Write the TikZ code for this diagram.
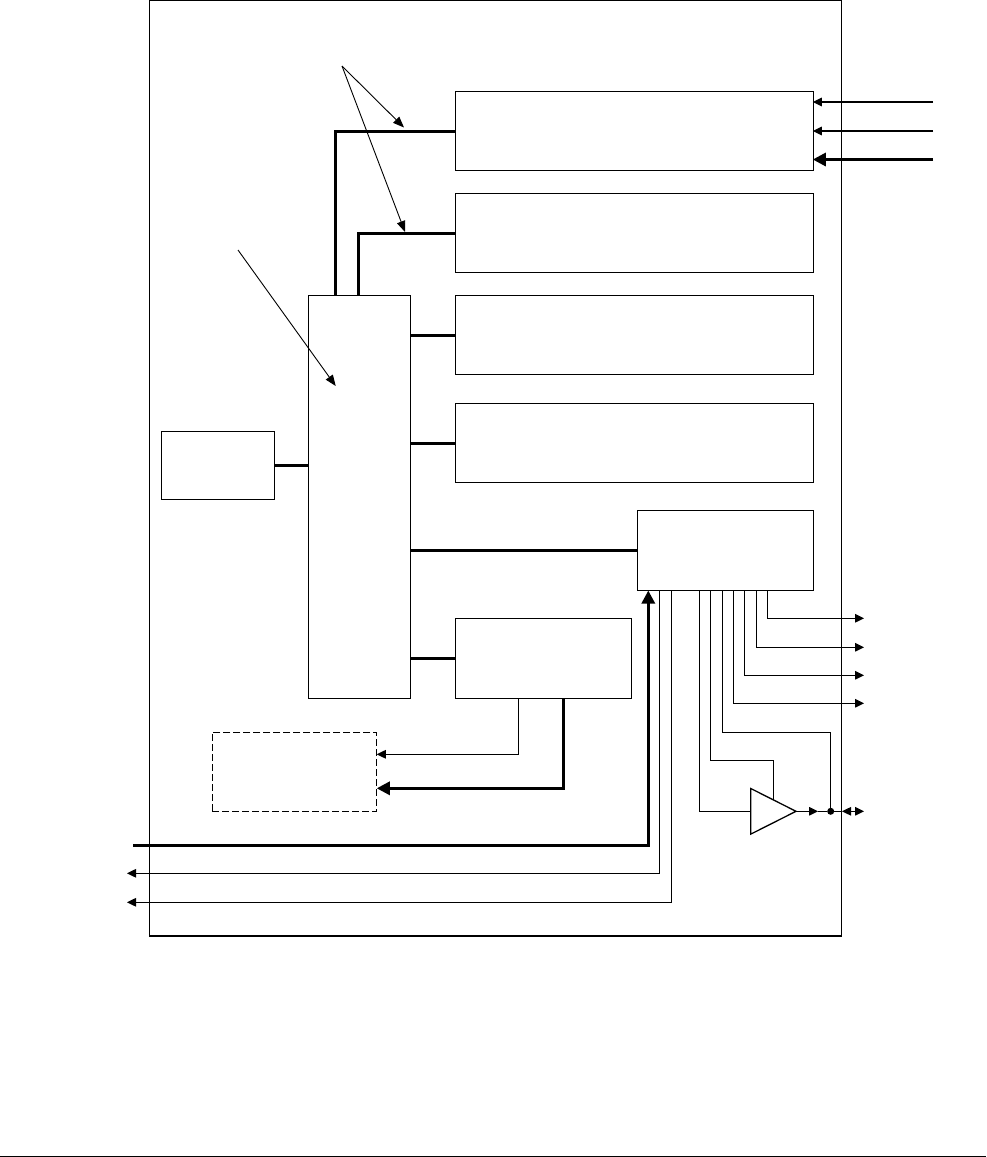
\documentclass[tikz,border=0pt]{standalone}
\usetikzlibrary{arrows.meta,shapes}

\begin{document}
\begin{tikzpicture}[
  x=1pt, y=-1pt,
  line width=1.3pt,
  blk/.style={rectangle, draw=black, outer sep=0pt, inner sep=0pt},
  wide/.style={blk, minimum width=358pt, minimum height=79pt},
  half/.style={blk, minimum width=176pt, minimum height=80pt},
  amp/.style={isosceles triangle, isosceles triangle stretches, draw=black, outer sep=0pt, inner sep=0pt,
              minimum width=45.7pt, minimum height=45.3pt, anchor=apex},
  junc/.style={circle, fill=black, outer sep=0pt, inner sep=0pt, minimum size=7pt},
  sig/.style={-{Triangle[length=9pt,width=8.5pt]}},
  bus/.style={-{Triangle[length=13pt,width=13pt]}, line width=3pt},
  wire/.style={line width=3pt},
  ptr/.style={-{Triangle[length=11pt,width=8.5pt]}, line width=0.9pt},
  bidir/.style={{Triangle[length=9pt,width=8.5pt]}-{Triangle[length=9pt,width=8.5pt]}}
]
\useasboundingbox (0,0) rectangle (986,1157);

\node[blk, minimum width=692pt, minimum height=936pt] (chip) at (495.5,468){};
\node[wide] (mema)  at (634.5,131)  {};
\node[wide] (memb)  at (634.5,233)  {};
\node[wide] (memc)  at (634.5,335)  {};
\node[wide] (memd)  at (634.5,443)  {};
\node[half] (ctl)   at (725.5,550.5){};
\node[half] (dma)   at (543.5,658.5){};
\node[blk, minimum width=102pt, minimum height=403pt] (core) at (359.5,497){};
\node[blk, minimum width=113pt, minimum height=68pt]  (clk)  at (218,465.5){};
\node[blk, dash pattern=on 7pt off 3pt, minimum width=164.5pt, minimum height=79pt] (ext) at (294.5,771.7){};
\node[amp] (buf) at (796,811.3){};
\node[junc] (dot) at (830.7,811.3){};

\coordinate (ina)   at (933,102);
\coordinate (inb)   at (933,131);
\coordinate (inc)   at (933,159.5);
\coordinate (outa)  at (864,618.3);
\coordinate (outb)  at (864,647.3);
\coordinate (outc)  at (864,675.3);
\coordinate (outd)  at (864,703.3);
\coordinate (outz)  at (864,811.3);
\coordinate (outy)  at (842,811.3);
\coordinate (outx)  at (818,811.3);
\coordinate (busin) at (133,845.3);
\coordinate (reta)  at (127,873.3);
\coordinate (retb)  at (127,902.3);
\coordinate (ptra)  at (342,66);
\coordinate (ptrb)  at (238,250);
\coordinate (tipa)  at (404,127.5);
\coordinate (tipb)  at (405,232);
\coordinate (tipc)  at (335.7,386);
\coordinate (rulea) at (0,1156);
\coordinate (ruleb) at (986,1156);

\draw[wire] (mema.west) -| ([xshift=26.5pt]core.north west);
\draw[wire] (memb.west) -| ([xshift=50pt]core.north west);
\draw[wire] (memc.west) -- (memc.west -| core.east);
\draw[wire] (memd.west) -- (memd.west -| core.east);
\draw[wire] (ctl.west)  -- (ctl.west -| core.east);
\draw[wire] (dma.west)  -- (dma.west -| core.east);
\draw[wire] (clk.east)  -- (clk.east -| core.west);

\draw[ptr] (ptra) -- (tipa);
\draw[ptr] (ptra) -- (tipb);
\draw[ptr] (ptrb) -- (tipc);

\draw[sig] (ina) -- ([xshift=-0.7pt]ina -| mema.east);
\draw[sig] (inb) -- ([xshift=-0.7pt]inb -| mema.east);
\draw[bus] (inc) -- ([xshift=-0.7pt]inc -| mema.east);

\draw[sig] ([xshift=63pt]dma.south west) |- ([yshift=17.4pt]ext.east);
\draw[bus] ([xshift=108pt]dma.south west) |- ([yshift=-16.6pt]ext.east);

\draw[bus] (busin) -| ([xshift=10.8pt]ctl.south west);
\draw[sig] ([xshift=21.8pt]ctl.south west) |- (reta);
\draw[sig] ([xshift=33.8pt]ctl.south west) |- (retb);

\draw[sig] ([xshift=129.8pt]ctl.south west) |- (outa);
\draw[sig] ([xshift=118.8pt]ctl.south west) |- (outb);
\draw[sig] ([xshift=107.2pt]ctl.south west) |- (outc);
\draw[sig] ([xshift=95.8pt]ctl.south west)  |- (outd);

\draw ([xshift=84.8pt]ctl.south west) |- (dot |- 0,732.3) -- (dot);
\draw ([xshift=72.8pt]ctl.south west) |- (buf.left side |- 0,760.3) -- (buf.left side);
\draw ([xshift=61.8pt]ctl.south west) |- (buf.lower side);

\draw[sig] (buf.apex) -- (outx);
\draw (outx) -- (dot);
\draw (dot) -- (outy);
\draw[bidir] (outy) -- (outz);

\draw[line width=1pt] (rulea) -- (ruleb);
\end{tikzpicture}
\end{document}
